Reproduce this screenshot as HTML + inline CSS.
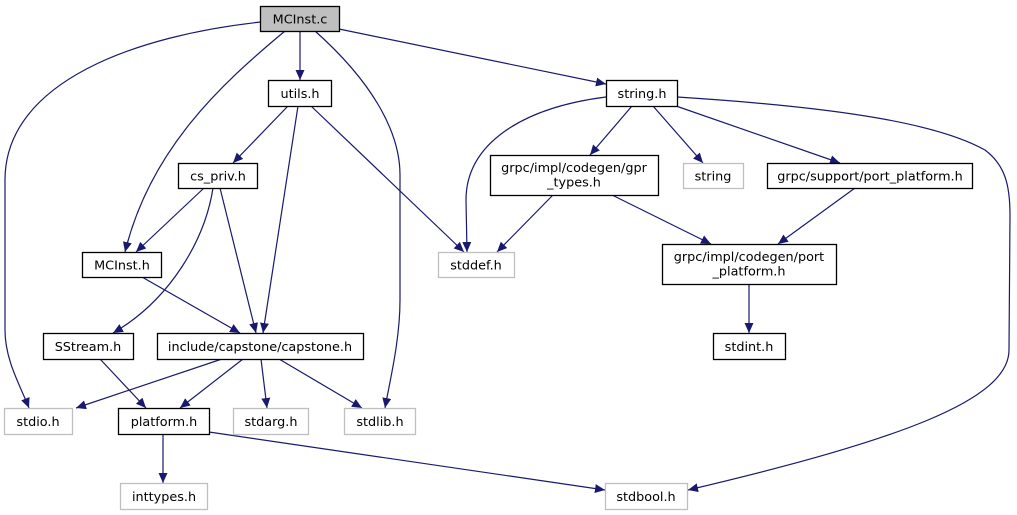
<!DOCTYPE html>
<html><head><meta charset="utf-8"><style>
html,body{margin:0;padding:0;background:#fff;}
svg{display:block;}
text{font-family:"DejaVu Sans","Liberation Sans",sans-serif;font-size:12.8px;fill:#000;}
.n{fill:#fff;stroke:#000;stroke-width:1.3;}
.g{fill:#fff;stroke:#bfbfbf;stroke-width:1.3;}
.e{fill:none;stroke:#191970;stroke-width:1.2;}
</style></head><body>
<svg width="1017" height="515" viewBox="0 0 1017 515" xmlns="http://www.w3.org/2000/svg">
<defs><marker id="a" markerUnits="userSpaceOnUse" markerWidth="12" markerHeight="10" refX="10" refY="4.5" orient="auto"><path d="M0,0 L10,4.5 L0,9 Z" fill="#191970"/></marker></defs>
<g class="e" marker-end="url(#a)">
<path d="M261,22 C140,35 5,80 5,180 L5,330 C5,360 20,385 29,408"/>
<path d="M285,31 C220,85 150,150 125,252"/>
<path d="M300,31 L300,80"/>
<path d="M315,31 C370,80 400,130 400,175 L400,300 C400,340 390,380 385,408"/>
<path d="M339,29 L606,84"/>
<path d="M288,106 L233,163"/>
<path d="M298,106 L263,333"/>
<path d="M311,106 L464,252"/>
<path d="M204,188 L136,252"/>
<path d="M213,188 C205,240 170,300 113,333"/>
<path d="M220,188 L256,333"/>
<path d="M142,277 L240,333"/>
<path d="M100,359 L146,408"/>
<path d="M222,359 L76,408"/>
<path d="M243,359 L180,408"/>
<path d="M261,359 L267,408"/>
<path d="M279,359 L362,408"/>
<path d="M163,434 L163,483"/>
<path d="M209,432 L605,490"/>
<path d="M606,97 C520,108 466,145 466,200 L467,252"/>
<path d="M632,106 L590,155"/>
<path d="M653,106 L703,163"/>
<path d="M676,106 L840,163"/>
<path d="M677,97 C850,108 940,125 985,150 C1005,165 1010,185 1010,215 L1009,350 C1009,400 900,440 688,490"/>
<path d="M553,195 L497,252"/>
<path d="M612,195 L711,244"/>
<path d="M855,188 L778,244"/>
<path d="M749,284 L749,333"/>
</g>
<rect x="260.5" y="6.5" width="79" height="25" fill="#bfbfbf" stroke="#000" stroke-width="1.3"/>
<text x="300" y="23.5" text-anchor="middle">MCInst.c</text>
<rect class="n" x="268.5" y="80.5" width="63" height="26"/><text x="300" y="98" text-anchor="middle">utils.h</text>
<rect class="n" x="606.5" y="80.5" width="71" height="26"/><text x="642" y="98" text-anchor="middle">string.h</text>
<rect class="n" x="178.5" y="163.5" width="79" height="25"/><text x="218" y="180.5" text-anchor="middle">cs_priv.h</text>
<rect class="n" x="490.5" y="155.5" width="168" height="40"/><text x="574" y="172" text-anchor="middle">grpc/impl/codegen/gpr</text><text x="574" y="186.5" text-anchor="middle">_types.h</text>
<rect class="g" x="683.5" y="163.5" width="60" height="25"/><text x="713" y="180.5" text-anchor="middle">string</text>
<rect class="n" x="767.5" y="163.5" width="205" height="25"/><text x="870" y="180.5" text-anchor="middle">grpc/support/port_platform.h</text>
<rect class="n" x="82.5" y="252.5" width="79" height="25"/><text x="122" y="269.5" text-anchor="middle">MCInst.h</text>
<rect class="g" x="438.5" y="252.5" width="76" height="25"/><text x="476" y="269.5" text-anchor="middle">stddef.h</text>
<rect class="n" x="662.5" y="244.5" width="174" height="40"/><text x="749" y="261" text-anchor="middle">grpc/impl/codegen/port</text><text x="749" y="275.5" text-anchor="middle">_platform.h</text>
<rect class="n" x="43.5" y="333.5" width="90" height="26"/><text x="88" y="351" text-anchor="middle">SStream.h</text>
<rect class="n" x="157.5" y="333.5" width="206" height="26"/><text x="260" y="351" text-anchor="middle">include/capstone/capstone.h</text>
<rect class="n" x="713.5" y="333.5" width="72" height="26"/><text x="749" y="351" text-anchor="middle">stdint.h</text>
<rect class="g" x="4.5" y="408.5" width="68" height="26"/><text x="38" y="426" text-anchor="middle">stdio.h</text>
<rect class="n" x="118.5" y="408.5" width="91" height="26"/><text x="164" y="426" text-anchor="middle">platform.h</text>
<rect class="g" x="233.5" y="408.5" width="75" height="26"/><text x="271" y="426" text-anchor="middle">stdarg.h</text>
<rect class="g" x="344.5" y="408.5" width="71" height="26"/><text x="380" y="426" text-anchor="middle">stdlib.h</text>
<rect class="g" x="120.5" y="483.5" width="87" height="26"/><text x="164" y="501" text-anchor="middle">inttypes.h</text>
<rect class="g" x="605.5" y="483.5" width="82" height="26"/><text x="646" y="501" text-anchor="middle">stdbool.h</text>
</svg>
</body></html>
